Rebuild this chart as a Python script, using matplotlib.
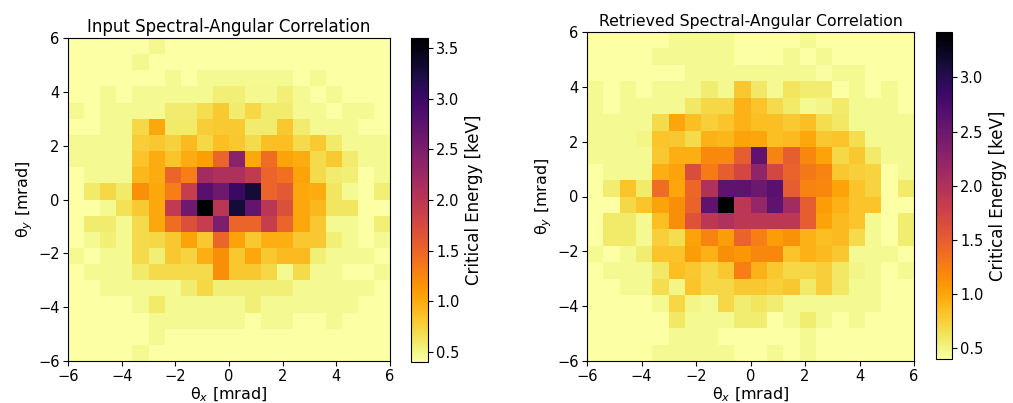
import numpy as np
import matplotlib
matplotlib.use("Agg")
import matplotlib.pyplot as plt

# 20 x 20 cells, theta from -6 to 6 mrad; first row is the top (theta_y = +6)
theta_edges = np.linspace(-6, 6, 21)

input_ec = [
    [0.40, 0.40, 0.40, 0.40, 0.40, 0.48, 0.40, 0.40, 0.40, 0.40, 0.40, 0.40, 0.40, 0.40, 0.40, 0.40, 0.40, 0.40, 0.40, 0.40],
    [0.40, 0.40, 0.40, 0.40, 0.48, 0.40, 0.40, 0.40, 0.40, 0.40, 0.40, 0.40, 0.40, 0.40, 0.40, 0.40, 0.40, 0.40, 0.40, 0.40],
    [0.40, 0.40, 0.40, 0.40, 0.40, 0.40, 0.47, 0.40, 0.47, 0.47, 0.47, 0.47, 0.47, 0.47, 0.40, 0.47, 0.40, 0.40, 0.40, 0.40],
    [0.40, 0.40, 0.47, 0.40, 0.47, 0.47, 0.47, 0.47, 0.47, 0.56, 0.56, 0.48, 0.48, 0.56, 0.47, 0.40, 0.47, 0.40, 0.40, 0.40],
    [0.47, 0.40, 0.47, 0.47, 0.47, 0.47, 0.58, 0.58, 0.68, 0.80, 0.58, 0.72, 0.58, 0.58, 0.47, 0.47, 0.40, 0.47, 0.47, 0.40],
    [0.40, 0.40, 0.47, 0.47, 0.72, 1.02, 0.60, 0.60, 0.78, 0.80, 0.80, 0.58, 0.58, 0.82, 0.58, 0.47, 0.47, 0.47, 0.40, 0.40],
    [0.47, 0.47, 0.47, 0.47, 0.78, 0.82, 0.76, 0.90, 0.72, 0.88, 0.82, 0.70, 0.88, 0.88, 0.70, 0.80, 0.60, 0.47, 0.47, 0.47],
    [0.47, 0.47, 0.47, 0.47, 0.85, 1.00, 0.85, 1.00, 1.08, 1.50, 2.40, 1.02, 1.45, 1.05, 1.00, 0.70, 0.80, 0.58, 0.47, 0.47],
    [0.40, 0.47, 0.47, 0.47, 0.92, 1.00, 1.50, 1.30, 2.20, 2.10, 2.10, 1.95, 1.50, 1.42, 1.05, 0.70, 0.58, 0.55, 0.40, 0.47],
    [0.40, 0.60, 0.72, 0.60, 1.18, 1.02, 1.30, 1.90, 2.80, 2.60, 3.00, 3.30, 1.50, 1.60, 1.02, 1.00, 0.62, 0.47, 0.40, 0.55],
    [0.40, 0.40, 0.47, 0.65, 0.80, 1.02, 1.95, 2.60, 3.60, 2.00, 3.30, 2.70, 2.00, 1.70, 1.02, 0.92, 0.62, 0.62, 0.40, 0.40],
    [0.40, 0.58, 0.58, 0.47, 0.70, 1.02, 1.45, 1.70, 1.90, 2.50, 1.50, 1.50, 1.90, 1.50, 1.02, 0.82, 0.47, 0.47, 0.40, 0.56],
    [0.40, 0.47, 0.56, 0.47, 0.70, 0.72, 0.82, 1.05, 0.82, 1.50, 1.05, 0.82, 0.98, 0.98, 0.82, 0.82, 0.56, 0.47, 0.40, 0.47],
    [0.47, 0.40, 0.47, 0.47, 0.70, 0.56, 0.82, 0.75, 0.98, 1.20, 0.82, 1.02, 0.82, 0.90, 0.90, 0.56, 0.47, 0.47, 0.47, 0.40],
    [0.40, 0.47, 0.47, 0.47, 0.60, 0.70, 0.70, 0.70, 0.70, 1.20, 0.82, 0.82, 0.72, 0.47, 0.70, 0.47, 0.47, 0.40, 0.40, 0.47],
    [0.40, 0.40, 0.47, 0.47, 0.47, 0.47, 0.47, 0.58, 0.72, 0.56, 0.56, 0.56, 0.56, 0.56, 0.47, 0.47, 0.47, 0.47, 0.47, 0.40],
    [0.40, 0.40, 0.40, 0.40, 0.47, 0.60, 0.47, 0.47, 0.47, 0.47, 0.47, 0.56, 0.47, 0.47, 0.47, 0.47, 0.47, 0.47, 0.40, 0.40],
    [0.40, 0.40, 0.40, 0.40, 0.40, 0.47, 0.47, 0.47, 0.47, 0.47, 0.47, 0.40, 0.47, 0.47, 0.40, 0.40, 0.47, 0.40, 0.40, 0.40],
    [0.40, 0.40, 0.40, 0.40, 0.40, 0.47, 0.40, 0.40, 0.40, 0.40, 0.40, 0.40, 0.40, 0.40, 0.40, 0.40, 0.40, 0.40, 0.40, 0.40],
    [0.40, 0.40, 0.40, 0.40, 0.47, 0.40, 0.40, 0.40, 0.40, 0.40, 0.40, 0.40, 0.40, 0.40, 0.40, 0.40, 0.40, 0.40, 0.40, 0.40],
]

retrieved_ec = [
    [0.40, 0.40, 0.40, 0.40, 0.40, 0.47, 0.47, 0.47, 0.47, 0.40, 0.40, 0.40, 0.40, 0.47, 0.40, 0.40, 0.40, 0.40, 0.40, 0.40],
    [0.40, 0.40, 0.40, 0.40, 0.47, 0.47, 0.47, 0.47, 0.47, 0.40, 0.40, 0.40, 0.47, 0.40, 0.47, 0.40, 0.40, 0.40, 0.40, 0.40],
    [0.40, 0.40, 0.40, 0.40, 0.40, 0.40, 0.47, 0.47, 0.47, 0.47, 0.47, 0.47, 0.47, 0.47, 0.42, 0.47, 0.47, 0.40, 0.40, 0.40],
    [0.47, 0.40, 0.47, 0.40, 0.47, 0.47, 0.47, 0.56, 0.48, 0.80, 0.60, 0.47, 0.62, 0.56, 0.56, 0.40, 0.47, 0.40, 0.47, 0.40],
    [0.47, 0.40, 0.47, 0.47, 0.47, 0.47, 0.60, 0.70, 0.70, 0.92, 0.82, 0.68, 0.58, 0.47, 0.50, 0.58, 0.47, 0.47, 0.47, 0.40],
    [0.47, 0.47, 0.47, 0.47, 0.68, 1.00, 0.85, 0.75, 0.82, 0.92, 0.85, 0.85, 0.78, 0.85, 0.66, 0.60, 0.47, 0.47, 0.47, 0.47],
    [0.47, 0.47, 0.47, 0.50, 0.82, 0.80, 0.68, 0.92, 0.90, 1.02, 1.00, 0.85, 0.88, 0.98, 0.80, 0.82, 0.66, 0.47, 0.47, 0.47],
    [0.47, 0.47, 0.47, 0.47, 0.80, 0.95, 0.95, 1.18, 1.18, 1.50, 2.60, 1.22, 1.50, 1.20, 1.02, 0.70, 0.80, 0.58, 0.47, 0.47],
    [0.40, 0.47, 0.47, 0.47, 0.95, 1.02, 1.65, 1.28, 1.50, 1.70, 2.25, 1.70, 1.45, 1.30, 1.22, 0.80, 0.75, 0.72, 0.40, 0.47],
    [0.40, 0.56, 0.82, 0.58, 1.38, 1.00, 1.42, 2.00, 2.60, 2.60, 2.50, 2.65, 1.50, 1.22, 1.20, 1.02, 0.82, 0.72, 0.40, 0.58],
    [0.40, 0.40, 0.70, 0.82, 1.02, 1.15, 1.45, 2.60, 3.42, 1.90, 2.20, 2.60, 2.10, 1.50, 1.05, 0.92, 0.82, 0.82, 0.40, 0.40],
    [0.40, 0.58, 0.58, 0.47, 0.85, 1.15, 1.60, 1.90, 2.00, 1.90, 1.90, 1.90, 1.90, 1.50, 1.02, 0.88, 0.82, 0.47, 0.40, 0.56],
    [0.40, 0.58, 0.58, 0.47, 0.75, 0.66, 1.02, 1.22, 1.05, 1.45, 1.25, 1.05, 1.12, 0.92, 0.85, 0.88, 0.68, 0.47, 0.40, 0.56],
    [0.47, 0.40, 0.47, 0.56, 0.82, 0.82, 1.05, 0.92, 1.15, 1.10, 1.20, 1.20, 0.82, 0.92, 0.88, 0.80, 0.47, 0.47, 0.47, 0.40],
    [0.40, 0.47, 0.47, 0.47, 0.60, 0.85, 0.80, 0.70, 0.80, 1.25, 0.92, 0.80, 0.70, 0.70, 0.75, 0.60, 0.50, 0.47, 0.40, 0.47],
    [0.40, 0.40, 0.47, 0.47, 0.66, 0.50, 0.82, 0.70, 0.70, 0.80, 0.80, 0.75, 0.80, 0.58, 0.75, 0.60, 0.47, 0.47, 0.40, 0.40],
    [0.40, 0.40, 0.40, 0.40, 0.47, 0.70, 0.50, 0.47, 0.70, 0.56, 0.62, 0.56, 0.47, 0.47, 0.47, 0.47, 0.47, 0.47, 0.40, 0.40],
    [0.40, 0.40, 0.40, 0.40, 0.40, 0.60, 0.47, 0.47, 0.47, 0.56, 0.56, 0.40, 0.47, 0.56, 0.47, 0.40, 0.47, 0.40, 0.40, 0.40],
    [0.40, 0.40, 0.40, 0.40, 0.40, 0.47, 0.47, 0.47, 0.40, 0.40, 0.40, 0.40, 0.40, 0.47, 0.40, 0.40, 0.40, 0.40, 0.40, 0.40],
    [0.40, 0.40, 0.40, 0.40, 0.47, 0.47, 0.47, 0.47, 0.47, 0.40, 0.40, 0.47, 0.40, 0.47, 0.40, 0.40, 0.40, 0.40, 0.40, 0.40],
]

W, H = 1013, 403
fig = plt.figure(figsize=(W / 100, H / 100), dpi=100)


def panel(data, ax_box, cb_box, title, title_size):
    ax = fig.add_axes([ax_box[0] / W, 1 - ax_box[3] / H, (ax_box[2] - ax_box[0]) / W, (ax_box[3] - ax_box[1]) / H])
    cax = fig.add_axes([cb_box[0] / W, 1 - cb_box[3] / H, (cb_box[2] - cb_box[0]) / W, (cb_box[3] - cb_box[1]) / H])
    z = np.array(data)[::-1]
    im = ax.pcolormesh(theta_edges, theta_edges, z, cmap="inferno_r")
    ax.set_xlim(-6, 6)
    ax.set_ylim(-6, 6)
    ax.set_xticks([-6, -4, -2, 0, 2, 4, 6])
    ax.set_yticks([-6, -4, -2, 0, 2, 4, 6])
    ax.tick_params(labelsize=10.5, pad=2.5)
    ax.set_xlabel(r"θ$_x$ [mrad]", fontsize=11.5, labelpad=1)
    ax.set_ylabel(r"θ$_y$ [mrad]", fontsize=11.5, labelpad=2)
    ax.set_title(title, fontsize=title_size, pad=4)
    cb = fig.colorbar(im, cax=cax)
    cb.ax.tick_params(labelsize=10.5, pad=2.5)
    cb.set_label("Critical Energy [keV]", fontsize=12)
    return ax


panel(input_ec, (68, 38, 390, 361), (411, 38, 428, 362), "Input Spectral-Angular Correlation", 12)
panel(retrieved_ec, (587, 32, 914, 361), (936, 32, 952, 359), "Retrieved Spectral-Angular Correlation", 11.3)

fig.savefig("out.png", dpi=100)
